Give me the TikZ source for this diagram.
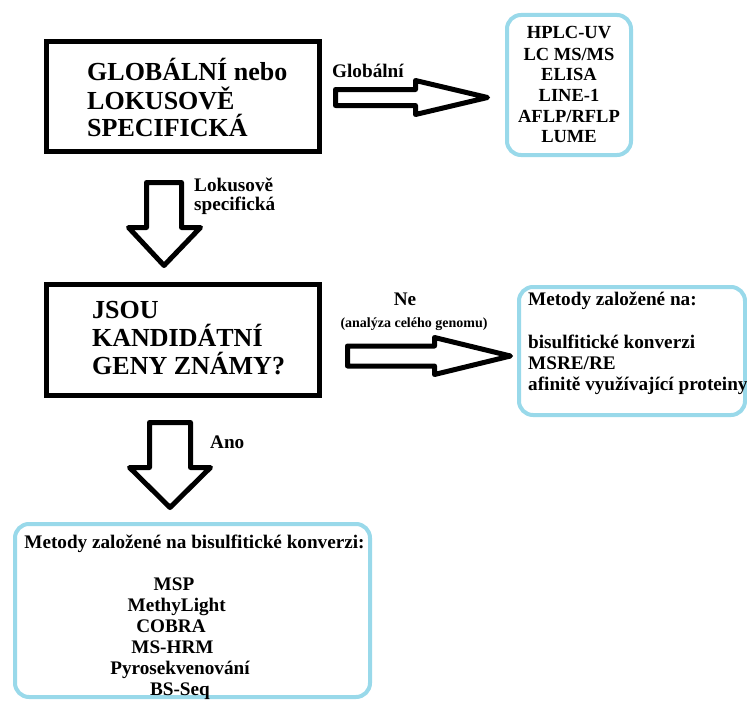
\documentclass[tikz,border=0pt]{standalone}
\usepackage{fontspec}
\setmainfont{Liberation Serif}
\definecolor{boxblue}{HTML}{99D9EA}
\tikzset{
  blkbox/.style={draw=black, line width=5pt, rectangle, inner sep=0pt, minimum width=273pt},
  bluebox/.style={draw=boxblue, line width=4pt, rectangle, rounded corners=14pt, inner sep=0pt},
  blockarrow/.style={draw=black, line width=5pt, line join=round, fill=white},
  bigtxt/.style={font=\bfseries\fontsize{26}{28}\selectfont, inner sep=0pt, anchor=base west},
  midtxt/.style={font=\bfseries\fontsize{18.5}{21}\selectfont, inner sep=0pt},
  widetxt/.style={font=\bfseries\fontsize{19.2}{21}\selectfont, inner sep=0pt},
  smalltxt/.style={font=\bfseries\fontsize{14}{16}\selectfont, inner sep=0pt},
}
\begin{document}
\begin{tikzpicture}[x=1pt,y=-1pt]
\useasboundingbox[fill=white] (0,0) rectangle (747,701);

% boxes
\node[blkbox, minimum height=110pt] (q1) at (183,96.5) {};
\node[blkbox, minimum height=111pt] (q2) at (183,340) {};
\node[bluebox, minimum width=124pt, minimum height=140pt] (r1) at (569,85) {};
\node[bluebox, minimum width=226pt, minimum height=128pt] (r2) at (632,351) {};
\node[bluebox, minimum width=355pt, minimum height=173pt] (r3) at (192.5,610.5) {};

% block arrows
\draw[blockarrow] (335.5,89.5) -- (415.5,89.5) -- (415.5,80.5) -- (487.5,97.5)
  -- (415.5,114.5) -- (415.5,105.5) -- (335.5,105.5) -- cycle;
\draw[blockarrow] (146.5,182.5) -- (181.5,182.5) -- (181.5,227.5) -- (200.5,227.5)
  -- (164,265.5) -- (128.5,227.5) -- (146.5,227.5) -- cycle;
\draw[blockarrow] (347.5,346) -- (434.5,346) -- (434.5,337.5) -- (510.5,356)
  -- (434.5,374.5) -- (434.5,366) -- (347.5,366) -- cycle;
\draw[blockarrow] (149.5,422.5) -- (190.5,422.5) -- (190.5,467.5) -- (210.5,467.5)
  -- (170,507.5) -- (129.5,467.5) -- (149.5,467.5) -- cycle;

% text of box q1
\node[bigtxt] (q1a) at (87,81) {GLOBÁLNÍ nebo};
\node[bigtxt] (q1b) at (87,109) {LOKUSOVĚ};
\node[bigtxt] (q1c) at (87,136) {SPECIFICKÁ};

% text of box q2
\node[bigtxt] (q2a) at (92,318) {JSOU};
\node[bigtxt] (q2b) at (92,346) {KANDIDÁTNÍ};
\node[bigtxt] (q2c) at (92,374) {GENY ZNÁMY?};

% arrow labels
\node[widetxt, anchor=base west] (lg) at (332,77.5) {Globální};
\node[widetxt, anchor=base west] (ll1) at (194,191) {Lokusově};
\node[widetxt, anchor=base west] (ll2) at (194,210) {specifická};
\node[widetxt, anchor=base] (ln) at (405,305) {Ne};
\node[smalltxt, anchor=base] (ln2) at (414,327) {(analýza celého genomu)};
\node[widetxt, anchor=base west] (la) at (210,448) {Ano};

% text of box r1
\node[midtxt, anchor=base] (r1a) at (569,38.3) {HPLC-UV};
\node[midtxt, anchor=base] (r1b) at (569,60) {LC MS/MS};
\node[midtxt, anchor=base] (r1c) at (569,81) {ELISA};
\node[midtxt, anchor=base] (r1d) at (569,101.5) {LINE-1};
\node[midtxt, anchor=base] (r1e) at (569,122.5) {AFLP/RFLP};
\node[midtxt, anchor=base] (r1f) at (569,142.7) {LUME};

% text of box r2
\node[widetxt, anchor=base west] (r2a) at (528,305) {Metody založené na:};
\node[widetxt, anchor=base west] (r2b) at (528,348) {bisulfitické konverzi};
\node[widetxt, anchor=base west] (r2c) at (528,369) {MSRE/RE};
\node[widetxt, anchor=base west] (r2d) at (528,390) {afinitě využívající proteiny};

% text of box r3
\node[widetxt, anchor=base] (r3t) at (194.5,548) {Metody založené na bisulfitické konverzi:};
\node[widetxt, anchor=base] (r3a) at (174,590) {MSP};
\node[widetxt, anchor=base] (r3b) at (176.7,611.7) {MethyLight};
\node[widetxt, anchor=base] (r3c) at (171,632) {COBRA};
\node[widetxt, anchor=base] (r3d) at (172.5,653) {MS-HRM};
\node[widetxt, anchor=base] (r3e) at (180,674) {Pyrosekvenování};
\node[widetxt, anchor=base] (r3f) at (180,695) {BS-Seq};
\end{tikzpicture}
\end{document}
